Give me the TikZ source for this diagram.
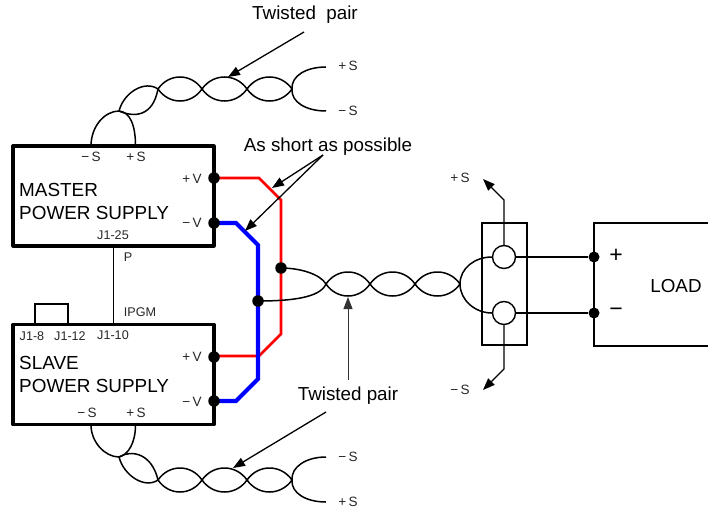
\documentclass[tikz,border=0pt]{standalone}
\usepackage{fontspec}
\setmainfont{Liberation Sans}
\usetikzlibrary{arrows.meta,calc}
\tikzset{
  psbox/.style={draw,line width=3.2pt,minimum width=201pt,minimum height=100pt,inner sep=0pt,line join=round},
  wire/.style={line width=1.5pt},
  thin wire/.style={line width=1.1pt},
  ptr/.style={line width=1.3pt,-{Triangle[length=12pt,width=9pt]}},
  ptrgray/.style={line width=.9pt,draw=black!80,-{Triangle[length=12pt,width=9pt]}},
  redw/.style={draw={rgb,255:red,255;green,0;blue,0},line width=2.8pt,line join=miter},
  bluew/.style={draw={rgb,255:red,0;green,0;blue,255},line width=4.2pt,line join=miter},
  dot/.style={circle,fill=black,inner sep=0pt,minimum size=11.5pt},
  term/.style={circle,draw,line width=1.4pt,fill=white,inner sep=0pt,minimum size=23pt},
  big/.style={font=\fontsize{18.9}{20}\selectfont,inner sep=0pt},
  mid/.style={font=\fontsize{18.8}{20}\selectfont,inner sep=0pt},
  small/.style={font=\fontsize{13.5}{15}\selectfont,inner sep=0pt,text=black!85},
  tiny/.style={font=\fontsize{12.6}{14}\selectfont,inner sep=0pt,text=black!85},
}
\newcommand{\lens}[2]{%
  \draw[wire] (#1) .. controls ($(#1)!.25!(#2)+(0,-16)$) and ($(#1)!.75!(#2)+(0,-16)$) .. (#2);
  \draw[wire] (#1) .. controls ($(#1)!.25!(#2)+(0,16)$) and ($(#1)!.75!(#2)+(0,16)$) .. (#2);}
\begin{document}
\begin{tikzpicture}[x=1pt,y=-1pt]
\useasboundingbox (0,0) rectangle (708,508);
% boxes
\node[psbox] (master) at (113.5,196) {};
\node[psbox] (slave) at (113.5,374.5) {};
\draw[thin wire] (113.5,246) coordinate (p1) -- (113.5,324) coordinate (p2);
\draw[thin wire] (35,324) -- (35,304) -- (68,304) -- (68,324);
% top twisted pair
\coordinate (ta) at (119,111);
\coordinate (tb) at (158,89);
\coordinate (tc) at (202,89);
\coordinate (td) at (247,89);
\coordinate (te) at (292,89);
\coordinate (tp) at (326,67);
\coordinate (tm) at (326,111);
\draw[wire] (91,146) .. controls (91,126) and (105,111) .. (ta);
\draw[wire] (135.5,146) .. controls (135.5,125) and (130,112) .. (ta);
\draw[wire] (ta) .. controls (124,92) and (145,80) .. (tb);
\draw[wire] (ta) .. controls (135,118) and (153,116) .. (tb);
\lens{tb}{tc}\lens{tc}{td}\lens{td}{te}
\draw[wire] (te) .. controls (291,76) and (306,67) .. (tp);
\draw[wire] (te) .. controls (291,102) and (306,111) .. (tm);
% bottom twisted pair
\coordinate (ba) at (119,457);
\coordinate (bb) at (158,480);
\coordinate (bc) at (202,480);
\coordinate (bd) at (247,480);
\coordinate (be) at (292,480);
\coordinate (bp) at (326,457);
\coordinate (bm) at (326,502);
\draw[wire] (91,425) .. controls (91,442) and (105,457) .. (ba);
\draw[wire] (135.5,425) .. controls (135.5,443) and (128,455) .. (ba);
\draw[wire] (ba) .. controls (132,449) and (152,454) .. (bb);
\draw[wire] (ba) .. controls (124,476) and (145,489) .. (bb);
\lens{bb}{bc}\lens{bc}{bd}\lens{bd}{be}
\draw[wire] (be) .. controls (291,467) and (306,457) .. (bp);
\draw[wire] (be) .. controls (291,493) and (306,502) .. (bm);
% power wires
\draw[redw] (214,178) -- (259,178) -- (281,200) -- (281,334) -- (259,356) -- (214,356);
\draw[bluew] (214,223) -- (236,223) -- (258,245) -- (258,379) -- (236,401) -- (214,401);
\node[dot] (mp) at (214,178) {};
\node[dot] (mm) at (214,223) {};
\node[dot] (sp) at (214,357) {};
\node[dot] (sm) at (214,401) {};
% centre twisted pair
\node[dot] (d1) at (281,268) {};
\node[dot] (d2) at (258,301) {};
\coordinate (ca) at (326,284);
\coordinate (cb) at (370,284);
\coordinate (cc) at (415,284);
\coordinate (cd) at (460,284);
\draw[wire] (d1.center) .. controls (300,268) and (320,274) .. (ca);
\draw[wire] (d2.center) .. controls (290,301) and (320,298) .. (ca);
\lens{ca}{cb}\lens{cb}{cc}\lens{cc}{cd}
% sense block
\draw[wire] (482,223) rectangle (527,345);
\node[term] (t1) at (504,257) {};
\node[term] (t2) at (504,313) {};
\draw[wire] (cd) .. controls (460,268) and (475,257) .. (t1.west);
\draw[wire] (cd) .. controls (460,300) and (475,313) .. (t2.west);
\coordinate (up) at (504,200);
\coordinate (upend) at (483,179);
\coordinate (dn) at (504,369);
\coordinate (dnend) at (483,390);
\draw[ptr] (t1.north) -- (up) -- (upend);
\draw[ptr] (t2.south) -- (dn) -- (dnend);
% load
\coordinate (l1) at (708,223);
\coordinate (l2) at (594,223);
\coordinate (l3) at (594,346);
\coordinate (l4) at (708,346);
\draw[thin wire] (l1) -- (l2) -- (l3) -- (l4);
\node[dot,minimum size=11pt] (lp) at (594,257) {};
\node[dot,minimum size=11pt] (lm) at (594,313) {};
\draw[thin wire] (t1.east) -- (lp);
\draw[thin wire] (t2.east) -- (lm);
% pointer arrows
\node[mid] (tw1) at (305,15) {Twisted\ \ pair};
\node[mid] (asp) at (328,147) {As short as possible};
\node[mid] (tw2) at (348,396) {Twisted pair};
\coordinate (tw1s) at (304,32);
\coordinate (tw2s) at (326,412);
\coordinate (tw3s) at (348,380);
\coordinate (asps) at (323,155);
\coordinate (h1) at (228,77);
\coordinate (h2) at (272,188);
\coordinate (h3) at (245,231);
\coordinate (h4) at (233,468);
\coordinate (h5) at (348,297);
\draw[ptr] (tw1s) -- (h1);
\draw[ptr] (asps) -- (h2);
\draw[ptr] (asps) -- (h3);
\draw[ptr] (tw2s) -- (h4);
\draw[ptrgray] (tw3s) -- (h5);
% labels
\node[big,anchor=west] (m1) at (19,190) {MASTER};
\node[big,anchor=west] (m2) at (19,213) {POWER SUPPLY};
\node[big,anchor=west] (s1) at (19,363) {SLAVE};
\node[big,anchor=west] (s2) at (19,386) {POWER SUPPLY};
\node[small] (a1) at (91,157) {−\,S};
\node[small] (a2) at (136,157) {+\,S};
\node[small] (a3) at (192,179) {+\,V};
\node[small] (a4) at (192,223) {−\,V};
\node[tiny] (a5) at (113,235) {J1-25};
\node[tiny] (a6) at (128,257) {P};
\node[tiny] (a7) at (140,312) {IPGM};
\node[tiny] (a8) at (32,336) {J1-8};
\node[tiny] (a9) at (70,336) {J1-12};
\node[tiny] (a10) at (113,335) {J1-10};
\node[small] (a11) at (192,357) {+\,V};
\node[small] (a12) at (192,402) {−\,V};
\node[small] (a13) at (87,413) {−\,S};
\node[small] (a14) at (136,413) {+\,S};
\node[small] (a15) at (348,66) {+\,S};
\node[small] (a16) at (348,111) {−\,S};
\node[small] (a17) at (348,457) {−\,S};
\node[small] (a18) at (348,502) {+\,S};
\node[small] (a19) at (460,178) {+\,S};
\node[small] (a20) at (460,390) {−\,S};
\node[font=\fontsize{23}{24}\selectfont,inner sep=0pt] (a21) at (616,256) {+};
\node[font=\fontsize{23}{24}\selectfont,inner sep=0pt] (a22) at (616,312) {−};
\node[mid] (a23) at (676,286) {LOAD};
\end{tikzpicture}
\end{document}
